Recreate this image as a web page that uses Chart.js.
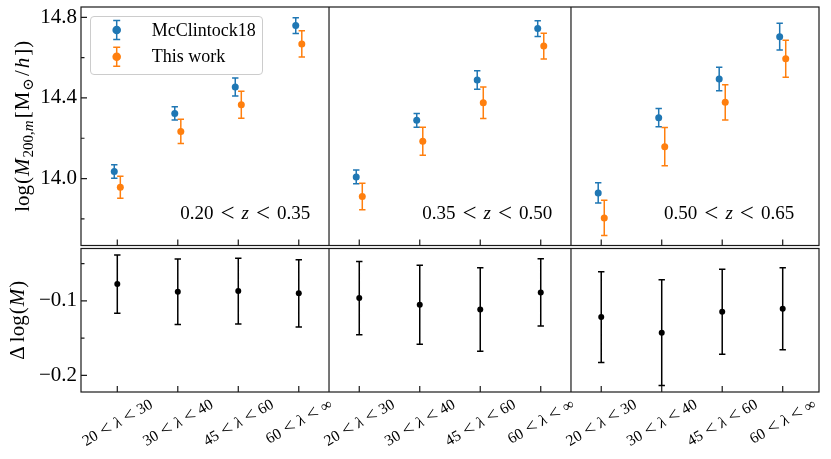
<!DOCTYPE html>
<html><head><meta charset="utf-8">
<script src="https://cdn.jsdelivr.net/npm/chart.js@4.4.0/dist/chart.umd.min.js"></script>
<style>
html,body{margin:0;padding:0;background:#fff;}
#wrap{position:relative;width:831px;height:459px;background:#fff;}
canvas{position:absolute;left:0;top:0;}
</style></head><body>
<div id="wrap"><canvas id="top" width="831" height="459"></canvas><canvas id="bot" width="831" height="459"></canvas></div>
<script>
// ---------------- data ----------------
const categories = ['20 < λ < 30', '30 < λ < 40', '45 < λ < 60', '60 < λ < ∞'];
const zBins = ['0.20 < z < 0.35', '0.35 < z < 0.50', '0.50 < z < 0.65'];
const seriesNames = ['McClintock18', 'This work'];
// log M200m, three redshift bins x four richness bins
const mcMass  = [14.035, 14.323, 14.454, 14.759,  14.008, 14.289, 14.489, 14.744,  13.929, 14.302, 14.494, 14.704];
const mcErr   = [0.033, 0.033, 0.045, 0.039,  0.034, 0.034, 0.046, 0.039,  0.050, 0.045, 0.058, 0.066];
const twMass  = [13.957, 14.234, 14.366, 14.668,  13.911, 14.185, 14.376, 14.657,  13.805, 14.158, 14.378, 14.594];
const twErr   = [0.055, 0.060, 0.067, 0.065,  0.066, 0.069, 0.078, 0.064,  0.087, 0.095, 0.087, 0.092];
const dLogM   = [-0.0776, -0.0879, -0.0870, -0.0900,  -0.0964, -0.1053, -0.1116, -0.0887,  -0.1219, -0.1428, -0.1147, -0.1107];
const dLogErr = [0.039, 0.044, 0.044, 0.045,  0.049, 0.053, 0.056, 0.045,  0.061, 0.071, 0.057, 0.055];
const topMajor = [14.0, 14.4, 14.8];
const topMinor = [13.8, 14.2, 14.6];
const botMajor = [-0.2, -0.1];
const botMinor = [-0.15, -0.05];
const topRange = [13.668, 14.851];
const botRange = [-0.2224, -0.0298];
const xRange = [-0.6, 11.6];

// ---------------- helpers ----------------
const FAM = '"Liberation Serif","DejaVu Serif",serif';
const fnt = (size, italic) => (italic ? 'italic ' : '') + size + 'px ' + FAM;
const NC = categories.length;
const NP = zBins.length;
function pts(vals, off) { return vals.map((v, i) => ({x: i + off, y: v})); }
function runsWidth(ctx, runs) {
  let w = 0;
  runs.forEach(r => { ctx.font = r.font; w += ctx.measureText(r.t).width + (r.gap || 0); });
  return w;
}
function drawRuns(ctx, runs, x, y) {
  let cx = x;
  runs.forEach(r => { ctx.font = r.font; ctx.fillText(r.t, cx, y + (r.dy || 0)); cx += ctx.measureText(r.t).width + (r.gap || 0); });
}
function mathRuns(str, size, gap) {
  const toks = str.split(' ');
  return toks.map((t, i) => {
    const rel = t === '<';
    return {
      t: t,
      font: rel ? fnt(Math.round(size * 1.3)) : fnt(size, /^[a-zλ]$/.test(t)),
      dy: rel ? size * 0.08 : 0,
      gap: i < toks.length - 1 ? gap : 0
    };
  });
}

const errPlugin = {
  id: 'errbars',
  beforeDatasetsDraw(chart) {
    const ctx = chart.ctx, xS = chart.scales.x, yS = chart.scales.y;
    chart.data.datasets.forEach(ds => {
      if (!ds.errors) return;
      ctx.save();
      ctx.strokeStyle = ds.backgroundColor;
      ctx.lineWidth = 1.5;
      ctx.beginPath();
      ds.data.forEach((p, i) => {
        const e = ds.errors[i];
        const px = xS.getPixelForValue(p.x);
        const y1 = yS.getPixelForValue(p.y - e), y2 = yS.getPixelForValue(p.y + e);
        ctx.moveTo(px, y1); ctx.lineTo(px, y2);
        ctx.moveTo(px - 3.2, y1); ctx.lineTo(px + 3.2, y1);
        ctx.moveTo(px - 3.2, y2); ctx.lineTo(px + 3.2, y2);
      });
      ctx.stroke();
      ctx.restore();
    });
  }
};

function framePlugin(major, minor) {
  return {
    id: 'frame',
    afterDraw(chart) {
      const ctx = chart.ctx, a = chart.chartArea, xS = chart.scales.x, yS = chart.scales.y;
      ctx.save();
      ctx.strokeStyle = '#1a1a1a';
      ctx.lineWidth = 1.2;
      ctx.strokeRect(a.left, a.top, a.right - a.left, a.bottom - a.top);
      ctx.beginPath();
      for (let k = 1; k < NP; k++) {
        const px = xS.getPixelForValue(k * NC - 0.5);
        ctx.moveTo(px, a.top); ctx.lineTo(px, a.bottom);
      }
      for (let i = 0; i < NC * NP; i++) {
        const px = xS.getPixelForValue(i);
        ctx.moveTo(px, a.bottom); ctx.lineTo(px, a.bottom - 6);
      }
      major.forEach(v => { const py = yS.getPixelForValue(v); ctx.moveTo(a.left, py); ctx.lineTo(a.left + 6, py); });
      minor.forEach(v => { const py = yS.getPixelForValue(v); ctx.moveTo(a.left, py); ctx.lineTo(a.left + 3.5, py); });
      ctx.stroke();
      ctx.restore();
    }
  };
}

function yTitlePlugin(runs, cx) {
  return {
    id: 'ytitle',
    afterDraw(chart) {
      const ctx = chart.ctx, a = chart.chartArea;
      ctx.save();
      ctx.fillStyle = '#000';
      ctx.textBaseline = 'alphabetic';
      const w = runsWidth(ctx, runs);
      ctx.translate(cx, (a.top + a.bottom) / 2);
      ctx.rotate(-Math.PI / 2);
      drawRuns(ctx, runs, -w / 2, 5);
      ctx.restore();
    }
  };
}

const legendPlugin = {
  id: 'legendbox',
  afterDraw(chart) {
    const ctx = chart.ctx;
    ctx.save();
    ctx.beginPath();
    ctx.roundRect(90.5, 16.5, 172, 58, 3.5);
    ctx.fillStyle = 'rgba(255,255,255,0.8)';
    ctx.fill();
    ctx.strokeStyle = '#cccccc';
    ctx.lineWidth = 1;
    ctx.stroke();
    chart.data.datasets.forEach((ds, i) => {
      const y = 30 + i * 26.7, x = 116.7;
      ctx.strokeStyle = ds.backgroundColor;
      ctx.lineWidth = 1.5;
      ctx.beginPath();
      ctx.moveTo(x, y - 9.5); ctx.lineTo(x, y + 9.5);
      ctx.moveTo(x - 3.5, y - 9.5); ctx.lineTo(x + 3.5, y - 9.5);
      ctx.moveTo(x - 3.5, y + 9.5); ctx.lineTo(x + 3.5, y + 9.5);
      ctx.stroke();
      ctx.beginPath();
      ctx.arc(x, y, 4.3, 0, Math.PI * 2);
      ctx.fillStyle = ds.backgroundColor;
      ctx.fill();
      ctx.fillStyle = '#000';
      ctx.font = fnt(18);
      ctx.textBaseline = 'middle';
      ctx.fillText(ds.label, 151.7, y + 1);
    });
    ctx.restore();
  }
};

const zTextPlugin = {
  id: 'ztext',
  afterDraw(chart) {
    const ctx = chart.ctx, xS = chart.scales.x, yS = chart.scales.y;
    ctx.save();
    ctx.fillStyle = '#000';
    ctx.textBaseline = 'alphabetic';
    zBins.forEach((s, k) => {
      const runs = mathRuns(s, 19, 7);
      const w = runsWidth(ctx, runs);
      const xr = xS.getPixelForValue(k * NC + 3.19);
      const yb = yS.getPixelForValue(13.797);
      drawRuns(ctx, runs, xr - w, yb);
    });
    ctx.restore();
  }
};

const xLabelPlugin = {
  id: 'xlabels',
  afterDraw(chart) {
    const ctx = chart.ctx, a = chart.chartArea, xS = chart.scales.x;
    ctx.save();
    ctx.fillStyle = '#000';
    ctx.textBaseline = 'alphabetic';
    const ang = Math.PI / 6;
    for (let i = 0; i < NC * NP; i++) {
      const runs = mathRuns(categories[i % NC], 15.5, 4.5);
      const w = runsWidth(ctx, runs);
      const h = 11;
      const H = w * Math.sin(ang) + h * Math.cos(ang);
      const cx = xS.getPixelForValue(i);
      const cy = a.bottom + 6 + H / 2;
      ctx.save();
      ctx.translate(cx, cy);
      ctx.rotate(-ang);
      drawRuns(ctx, runs, -w / 2, 5);
      ctx.restore();
    }
    ctx.restore();
  }
};

function yAxis(range, major, cb) {
  return {
    min: range[0], max: range[1],
    afterFit(s) { s.width = 81; s.paddingTop = 0; s.paddingBottom = 0; },
    afterBuildTicks(s) { s.ticks = major.map(v => ({value: v})); },
    grid: {display: false, drawTicks: false},
    border: {display: false},
    ticks: {autoSkip: false, padding: 4, color: '#000', font: {family: FAM, size: 21}, callback: cb}
  };
}

const topTitle = [
  {t: 'log', font: fnt(21), gap: 1},
  {t: '(', font: fnt(21), gap: 1},
  {t: 'M', font: fnt(21, true), gap: 1},
  {t: '200,', font: fnt(15), dy: 4},
  {t: 'm', font: fnt(15, true), dy: 4, gap: 2},
  {t: '[', font: fnt(21), gap: 1},
  {t: 'M', font: fnt(21), gap: 1},
  {t: '⊙', font: fnt(15), dy: 4, gap: 2},
  {t: '/', font: fnt(21), gap: 2},
  {t: 'h', font: fnt(21, true), gap: 2},
  {t: ']', font: fnt(21), gap: 1},
  {t: ')', font: fnt(21)}
];
const botTitle = [
  {t: 'Δ', font: fnt(21), gap: 4},
  {t: 'log', font: fnt(21), gap: 1},
  {t: '(', font: fnt(21), gap: 1},
  {t: 'M', font: fnt(21, true), gap: 1},
  {t: ')', font: fnt(21)}
];

const common = {
  responsive: false, animation: false, events: [],
  plugins: {legend: {display: false}, tooltip: {enabled: false}}
};

new Chart(document.getElementById('top'), {
  type: 'scatter',
  data: {datasets: [
    {label: seriesNames[0], data: pts(mcMass, -0.05), errors: mcErr, backgroundColor: '#1f77b4', pointRadius: 3.5, pointHoverRadius: 3.5, borderWidth: 0},
    {label: seriesNames[1], data: pts(twMass, 0.05), errors: twErr, backgroundColor: '#ff7f0e', pointRadius: 3.5, pointHoverRadius: 3.5, borderWidth: 0}
  ]},
  options: Object.assign({}, common, {
    layout: {padding: {left: 0, right: 12, top: 7, bottom: 213.5}},
    scales: {
      x: {type: 'linear', min: xRange[0], max: xRange[1], display: false},
      y: yAxis(topRange, topMajor, v => v.toFixed(1))
    }
  }),
  plugins: [errPlugin, framePlugin(topMajor, topMinor), zTextPlugin, legendPlugin, yTitlePlugin(topTitle, 24)]
});

new Chart(document.getElementById('bot'), {
  type: 'scatter',
  data: {datasets: [
    {label: 'Δlog(M)', data: pts(dLogM, 0), errors: dLogErr, backgroundColor: '#000000', pointRadius: 3, pointHoverRadius: 3, borderWidth: 0}
  ]},
  options: Object.assign({}, common, {
    layout: {padding: {left: 0, right: 12, top: 248.5, bottom: 67}},
    scales: {
      x: {type: 'linear', min: xRange[0], max: xRange[1], display: false},
      y: yAxis(botRange, botMajor, v => (v < 0 ? '−' : '') + Math.abs(v).toFixed(1))
    }
  }),
  plugins: [errPlugin, framePlugin(botMajor, botMinor), xLabelPlugin, yTitlePlugin(botTitle, 19)]
});
</script>
</body></html>
